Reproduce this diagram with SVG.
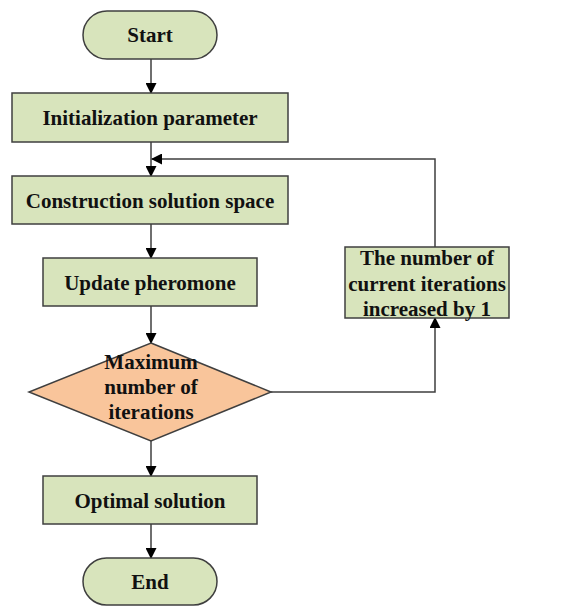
<svg xmlns="http://www.w3.org/2000/svg" width="583" height="606" viewBox="0 0 583 606">
<style>
.box{fill:#d8e4bc;stroke:#3f3f3f;stroke-width:1.5}
.dia{fill:#f9c59b;stroke:#3f3f3f;stroke-width:1.5}
.t{font-family:"Liberation Serif","Times New Roman",serif;font-weight:bold;font-size:21px;fill:#111;text-anchor:middle}
.c{fill:none;stroke:#3f3f3f;stroke-width:1.5}
</style>
<defs>
<marker id="ah" markerWidth="11" markerHeight="11" refX="10" refY="5.5" orient="auto" markerUnits="userSpaceOnUse">
<path d="M0,0 L11,5.5 L0,11 Z" fill="#000"/>
</marker>
</defs>
<rect width="583" height="606" fill="#fff"/>
<g id="connectors">
<line class="c" x1="151" y1="59" x2="151" y2="93" marker-end="url(#ah)"/>
<line class="c" x1="151" y1="142" x2="151" y2="176" marker-end="url(#ah)"/>
<line class="c" x1="151" y1="224" x2="151" y2="258" marker-end="url(#ah)"/>
<line class="c" x1="151" y1="306" x2="151" y2="343" marker-end="url(#ah)"/>
<line class="c" x1="151" y1="441" x2="151" y2="476" marker-end="url(#ah)"/>
<line class="c" x1="151" y1="524" x2="151" y2="558" marker-end="url(#ah)"/>
<polyline class="c" points="271,392 435,392 435,318" marker-end="url(#ah)"/>
<polyline class="c" points="435,247 435,159 152,159" marker-end="url(#ah)"/>
</g>
<g id="start">
<rect class="box" x="83" y="11" width="134" height="48" rx="24"/>
<text class="t" x="150" y="42">Start</text>
</g>
<g id="init">
<rect class="box" x="12" y="93" width="276" height="49"/>
<text class="t" x="150" y="125">Initialization parameter</text>
</g>
<g id="construct">
<rect class="box" x="12" y="176" width="276" height="48"/>
<text class="t" x="150" y="208">Construction solution space</text>
</g>
<g id="update">
<rect class="box" x="43" y="258" width="214" height="48"/>
<text class="t" x="150" y="290">Update pheromone</text>
</g>
<g id="decision">
<polygon class="dia" points="151,343 271,392 151,441 29,392"/>
<text class="t" x="151" y="369">Maximum</text>
<text class="t" x="151" y="394">number of</text>
<text class="t" x="151" y="419">iterations</text>
</g>
<g id="increment">
<rect class="box" x="345" y="247" width="164" height="71"/>
<text class="t" x="427" y="265">The number of</text>
<text class="t" x="427" y="291">current iterations</text>
<text class="t" x="427" y="316">increased by 1</text>
</g>
<g id="optimal">
<rect class="box" x="43" y="476" width="214" height="48"/>
<text class="t" x="150" y="508">Optimal solution</text>
</g>
<g id="end">
<rect class="box" x="83" y="558" width="134" height="47" rx="23.5"/>
<text class="t" x="150" y="589">End</text>
</g>
</svg>
